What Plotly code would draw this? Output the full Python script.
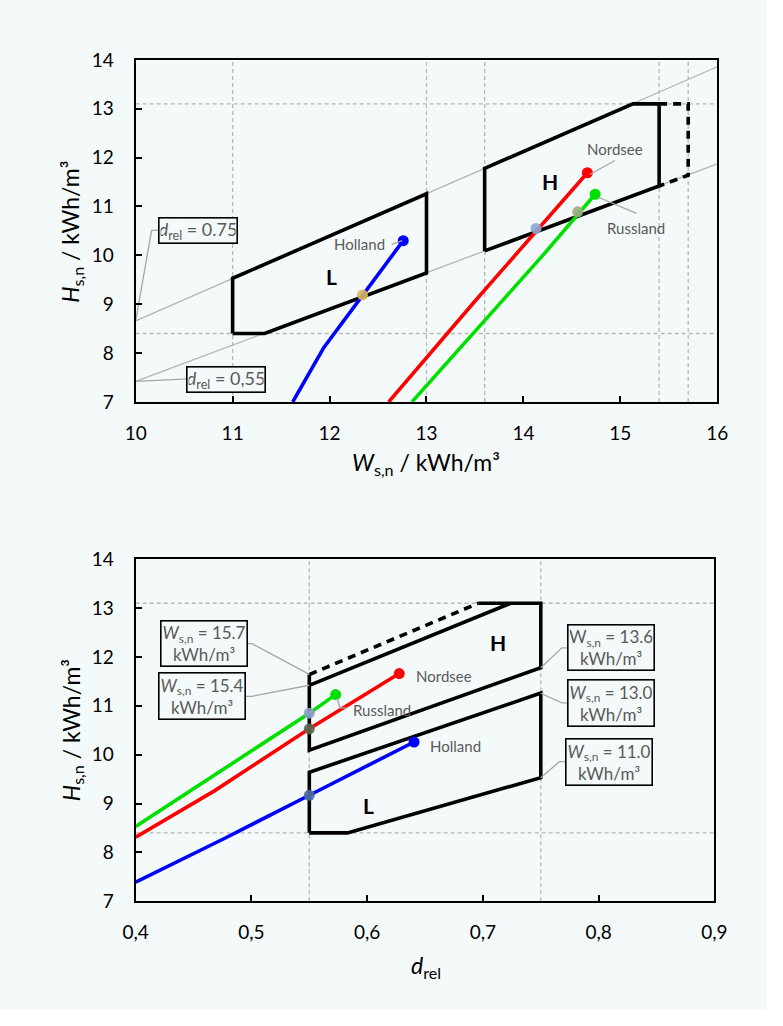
import plotly.graph_objects as go

# figure size chosen so the page (with the browser's default 8px body margin) fits the window
W_PX, H_PX = 767, 1010

# ---------------- upper chart: Wobbe index W vs. calorific value H ----------------
holland_w = [11.62, 11.94, 12.76]
holland_h = [7.00, 8.11, 10.30]
nordsee_w = [12.61, 13.49, 14.66]
nordsee_h = [7.00, 9.04, 11.69]
russland_w = [12.85, 14.20, 14.74]
russland_h = [7.00, 10.00, 11.25]

# points where the gas curves cross d_rel = 0.55
cross_w = [12.34, 14.13, 14.56]
cross_h = [9.19, 10.55, 10.89]

# lines of constant relative density
drel_w = [10.0, 16.0]
drel075_h = [8.66, 13.86]
drel055_h = [7.42, 11.87]

# gas group boundaries (L and H)
l_top_w = [11.0, 11.33, 13.0, 13.0, 11.0, 11.0]
l_top_h = [8.40, 8.40, 9.64, 11.26, 9.53, 8.40]
h_top_w = [13.6, 13.6, 15.13, 15.4, 15.4, 13.6]
h_top_h = [10.09, 11.78, 13.10, 13.10, 11.42, 10.09]
h_ext_top_w = [15.4, 15.7, 15.7, 15.4]
h_ext_top_h = [13.10, 13.10, 11.64, 11.42]

grid_w = [11.0, 13.0, 13.6, 15.4, 15.7]
grid_h = [13.1, 8.4]

# ---------------- lower chart: relative density vs. calorific value ----------------
holland_d = [0.400, 0.477, 0.550, 0.6405]
holland_h2 = [7.39, 8.29, 9.17, 10.26]
nordsee_d = [0.400, 0.468, 0.550, 0.6277]
nordsee_h2 = [8.31, 9.26, 10.53, 11.66]
russland_d = [0.400, 0.4933, 0.550, 0.5728]
russland_h2 = [8.53, 9.96, 10.85, 11.23]

cross_d = [0.55, 0.55, 0.55]
cross_h2 = [10.85, 10.53, 9.17]

l_bot_d = [0.55, 0.583, 0.75, 0.75, 0.55, 0.55]
l_bot_h = [8.40, 8.40, 9.53, 11.26, 9.64, 8.40]
h_bot_d = [0.724, 0.55, 0.55, 0.55, 0.75, 0.75, 0.696]
h_bot_h = [13.10, 11.42, 11.64, 10.09, 11.78, 13.10, 13.10]
h_ext_bot_d = [0.55, 0.696]
h_ext_bot_h = [11.64, 13.10]

grid_d = [0.55, 0.75]

x_ticks_top = [10, 11, 12, 13, 14, 15, 16]
x_ticks_bot = [0.4, 0.5, 0.6, 0.7, 0.8, 0.9]
y_ticks = [7, 8, 9, 10, 11, 12, 13, 14]

BG = "#F4F9F9"
GRAY_TXT = "#595959"
LEADER = "#A6A6A6"
FONT = "Lato, Open Sans, sans-serif"

fig = go.Figure()


def line(x, y, color, width, xa, ya, dash=None):
    fig.add_trace(go.Scatter(
        x=x, y=y, mode="lines", xaxis=xa, yaxis=ya, hoverinfo="skip",
        line=dict(color=color, width=width, dash=dash), showlegend=False))


def curve(x, y, color, xa, ya):
    fig.add_trace(go.Scatter(
        x=x, y=y, mode="lines", xaxis=xa, yaxis=ya, hoverinfo="skip",
        line=dict(color=color, width=3.6), showlegend=False))
    fig.add_trace(go.Scatter(
        x=[x[-1]], y=[y[-1]], mode="markers", xaxis=xa, yaxis=ya, hoverinfo="skip",
        marker=dict(color=color, size=11), showlegend=False))


# upper chart
line(drel_w, drel075_h, "#B4B4B4", 1.3, "x", "y")
line(drel_w, drel055_h, "#B4B4B4", 1.3, "x", "y")
line(l_top_w, l_top_h, "black", 3.6, "x", "y")
line(h_top_w, h_top_h, "black", 3.6, "x", "y")
line(h_ext_top_w, h_ext_top_h, "black", 3.6, "x", "y", dash="8px,6px")
curve(holland_w, holland_h, "#0000FF", "x", "y")
curve(nordsee_w, nordsee_h, "#FF0000", "x", "y")
curve(russland_w, russland_h, "#00E000", "x", "y")
fig.add_trace(go.Scatter(
    x=cross_w, y=cross_h, mode="markers", xaxis="x", yaxis="y", hoverinfo="skip",
    marker=dict(color=["#D8B65A", "#8AA6D6", "#98AB7E"], size=11, opacity=0.9),
    showlegend=False))

# lower chart
line(l_bot_d, l_bot_h, "black", 3.6, "x2", "y2")
line(h_bot_d, h_bot_h, "black", 3.6, "x2", "y2")
line(h_ext_bot_d, h_ext_bot_h, "black", 3.6, "x2", "y2", dash="8px,6px")
curve(holland_d, holland_h2, "#0000FF", "x2", "y2")
curve(nordsee_d, nordsee_h2, "#FF0000", "x2", "y2")
curve(russland_d, russland_h2, "#00E000", "x2", "y2")
fig.add_trace(go.Scatter(
    x=cross_d, y=cross_h2, mode="markers", xaxis="x2", yaxis="y2", hoverinfo="skip",
    marker=dict(color=["#8E9CCB", "#56664C", "#4B6C9E"], size=11, opacity=0.9),
    showlegend=False))

# leader lines for the labels
line([10.0, 10.164, 10.249], [8.66, 10.51, 10.51], LEADER, 1.3, "x", "y")
line([10.0, 10.538], [7.42, 7.47], LEADER, 1.3, "x", "y")
line([12.64, 12.75], [10.226, 10.30], LEADER, 1.3, "x", "y")
line([14.944, 14.685], [11.94, 11.654], LEADER, 1.3, "x", "y")
line([15.166, 14.767], [10.86, 11.194], LEADER, 1.3, "x", "y")

line([0.4953, 0.5003, 0.55], [12.274, 12.274, 11.643], LEADER, 1.3, "x2", "y2")
line([0.4936, 0.5003, 0.55], [11.194, 11.194, 11.421], LEADER, 1.3, "x2", "y2")
line([0.7741, 0.7682, 0.75], [12.186, 12.186, 11.778], LEADER, 1.3, "x2", "y2")
line([0.7741, 0.7682, 0.75], [11.06, 11.06, 11.258], LEADER, 1.3, "x2", "y2")
line([0.7724, 0.7662, 0.75], [9.86, 9.86, 9.526], LEADER, 1.3, "x2", "y2")
line([0.5740, 0.5763, 0.5830], [11.16, 10.96, 10.96], LEADER, 1.3, "x2", "y2")

# dashed reference lines
shapes = []
GRID = dict(color="#B8B8B8", width=1.3, dash="4px,3px")
for w in grid_w:
    shapes.append(dict(type="line", xref="x", yref="y domain", x0=w, x1=w, y0=0, y1=1,
                       line=GRID, layer="below"))
for h in grid_h:
    shapes.append(dict(type="line", xref="x domain", yref="y", x0=0, x1=1, y0=h, y1=h,
                       line=GRID, layer="below"))
for d in grid_d:
    shapes.append(dict(type="line", xref="x2", yref="y2 domain", x0=d, x1=d, y0=0, y1=1,
                       line=GRID, layer="below"))
for h in grid_h:
    shapes.append(dict(type="line", xref="x2 domain", yref="y2", x0=0, x1=1, y0=h, y1=h,
                       line=GRID, layer="below"))

ann = []


def label(x, y, text, xa, ya, size=15, color=GRAY_TXT, bold=False):
    ann.append(dict(x=x, y=y, xref=xa, yref=ya, text=f"<b>{text}</b>" if bold else text,
                    showarrow=False, xanchor="center", yanchor="middle",
                    font=dict(family=FONT, size=size, color=color)))


def box(x, y, text, xa, ya, w, h, size=17):
    ann.append(dict(x=x, y=y, xref=xa, yref=ya, text=text, showarrow=False,
                    xanchor="center", yanchor="middle",
                    width=w, height=h, align="center", valign="middle",
                    bordercolor="black", borderwidth=1.6, borderpad=1, bgcolor=BG,
                    font=dict(family=FONT, size=size, color=GRAY_TXT)))


WSN = "<i>W</i><sub>s,n</sub>"
box(10.643, 10.50, "<i>d</i><sub>rel</sub> = 0.75", "x", "y", 75, 22, 18)
box(10.932, 7.46, "<i>d</i><sub>rel</sub> = 0,55", "x", "y", 75, 22, 18)
label(12.309, 10.226, "Holland", "x", "y")
label(14.941, 12.174, "Nordsee", "x", "y")
label(15.160, 10.56, "Russland", "x", "y")
label(12.016, 9.574, "L", "x", "y", size=21, color="black", bold=True)
label(14.279, 11.506, "H", "x", "y", size=21, color="black", bold=True)

box(0.4593, 12.276, WSN + " = 15.7<br>kWh/m³", "x2", "y2", 83, 42)
box(0.4577, 11.194, WSN + " = 15.4<br>kWh/m³", "x2", "y2", 83, 43)
box(0.8103, 12.186, "W<sub>s,n</sub> = 13.6<br>kWh/m³", "x2", "y2", 83, 42)
box(0.8103, 11.06, WSN + " = 13.0<br>kWh/m³", "x2", "y2", 83, 43)
box(0.8088, 9.86, WSN + " = 11.0<br>kWh/m³", "x2", "y2", 83, 43)
label(0.6661, 11.606, "Nordsee", "x2", "y2")
label(0.6131, 10.906, "Russland", "x2", "y2")
label(0.6766, 10.18, "Holland", "x2", "y2")
label(0.7134, 12.294, "H", "x2", "y2", size=21, color="black", bold=True)
label(0.6014, 8.96, "L", "x2", "y2", size=21, color="black", bold=True)

# axis titles
TITLE = dict(family=FONT, size=23, color="black")


def title(px, py, text, angle=0):
    ann.append(dict(x=px / W_PX, y=1 - py / H_PX, xref="paper", yref="paper",
                    showarrow=False, xanchor="center", yanchor="middle",
                    text=text, textangle=angle, font=TITLE))


title(428, 462, "<i>W</i><sub>s,n</sub> / kWh/m³")
title(61, 225, "<i>H</i><sub>s,n</sub> / kWh/m³", -90)
title(61, 735, "<i>H</i><sub>s,n</sub> / kWh/m³", -90)
title(427, 977, "<i>d</i><sub>rel</sub>")

AX = dict(showline=True, linecolor="black", linewidth=2, mirror=True, showgrid=False,
          zeroline=False, ticks="inside", ticklen=6, tickwidth=1.5, tickcolor="black",
          tickfont=dict(family=FONT, size=19, color="black"))

fig.update_layout(
    width=W_PX, height=H_PX,
    margin=dict(l=0, r=0, t=0, b=0),
    paper_bgcolor=BG, plot_bgcolor=BG,
    separators=",.",
    showlegend=False,
    xaxis=dict(AX, domain=[127 / W_PX, 729 / W_PX], range=[10, 16], tickvals=x_ticks_top,
               anchor="y", ticklabelstandoff=13),
    yaxis=dict(AX, domain=[1 - 399 / H_PX, 1 - 49 / H_PX], range=[7, 14], tickvals=y_ticks,
               anchor="x", ticklabelstandoff=16),
    xaxis2=dict(AX, domain=[127 / W_PX, 726 / W_PX], range=[0.4, 0.9], tickvals=x_ticks_bot,
                tickformat=".1f", anchor="y2", ticklabelstandoff=13),
    yaxis2=dict(AX, domain=[1 - 910 / H_PX, 1 - 560 / H_PX], range=[7, 14], tickvals=y_ticks,
                anchor="x2", ticklabelstandoff=16),
    shapes=shapes,
    annotations=ann,
)

fig.write_html("out.html")
